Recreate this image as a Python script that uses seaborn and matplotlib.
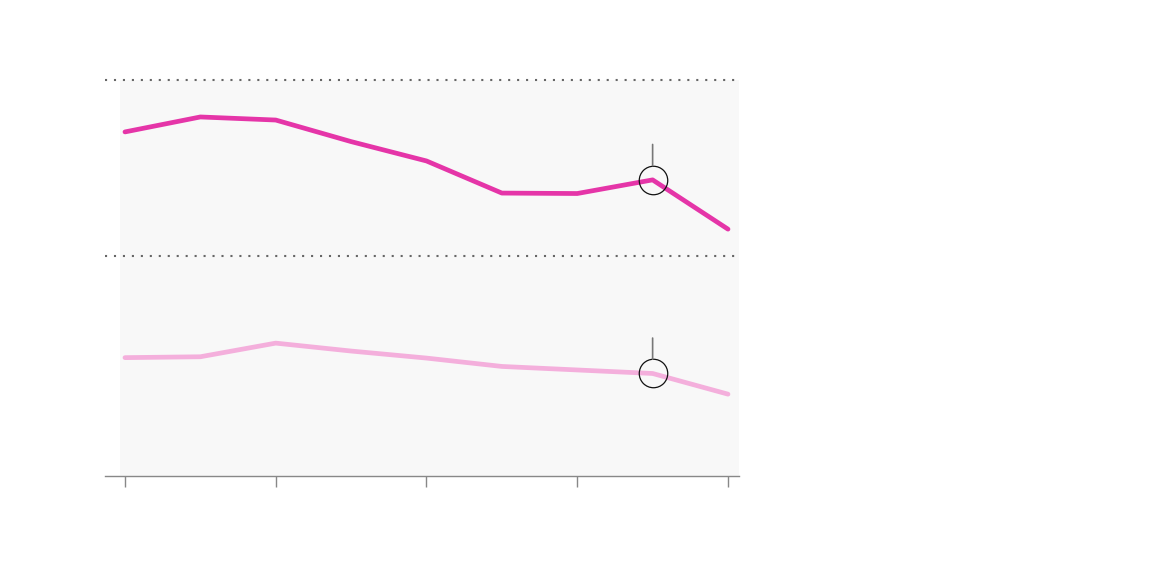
import pandas as pd
import matplotlib
matplotlib.use("Agg")
import matplotlib.pyplot as plt
import seaborn as sns

# valores (sin etiquetas en la imagen)
periodos = [0, 1, 2, 3, 4, 5, 6, 7, 8]
serie_alta = [78.2, 81.6, 80.9, 76.0, 71.6, 64.3, 64.2, 67.3, 56.1]
serie_baja = [26.9, 27.1, 30.2, 28.4, 26.8, 24.9, 24.1, 23.3, 18.6]
lineas_guia = [50, 90]
ticks_x = [0, 2, 4, 6, 8]
punto_marcado = 7

colores = {"alta": "#e535a8", "baja": "#f4afdc"}

df = pd.DataFrame({
    "periodo": periodos * 2,
    "valor": serie_alta + serie_baja,
    "serie": ["alta"] * len(periodos) + ["baja"] * len(periodos),
})

sns.set_style("white")
fig = plt.figure(figsize=(11.56, 5.66), dpi=100)
ax = fig.add_axes([105 / 1156, 90 / 566, 634 / 1156, 396 / 566])
ax.set_facecolor("none")

ax.set_xlim(-0.265, 8.146)
ax.set_ylim(0, 90)

# fondo gris claro
ax.axvspan(-0.066, 8.146, color="#f8f8f8", zorder=0, lw=0)

for v in lineas_guia:
    ax.axhline(v, color="#666666", lw=1.5, ls=(0, (1, 3.3)), clip_on=False, zorder=1)

sns.lineplot(data=df, x="periodo", y="valor", hue="serie", palette=colores,
             lw=3.4, legend=False, ax=ax, zorder=3)

# círculos y marcas sobre el punto destacado
for serie in [serie_alta, serie_baja]:
    ax.plot(periodos[punto_marcado], serie[punto_marcado], marker="o", ms=20.5,
            mfc="none", mec="#111111", mew=0.9, zorder=4)
    ax.annotate("", xy=(periodos[punto_marcado], serie[punto_marcado]),
                xytext=(0, 25.5), textcoords="offset points",
                arrowprops=dict(arrowstyle="-", color="#777777", lw=1.2,
                                shrinkA=0, shrinkB=10.3), zorder=4)

ax.set_xticks(ticks_x)
ax.set_xticklabels([])
ax.set_yticks([])
ax.tick_params(axis="x", length=8, width=1, color="#888888", direction="out", bottom=True)
ax.set_xlabel("")
ax.set_ylabel("")
for lado in ["top", "left", "right"]:
    ax.spines[lado].set_visible(False)
ax.spines["bottom"].set_color("#888888")
ax.spines["bottom"].set_linewidth(1)

fig.savefig("out.png", dpi=100)
plt.close()
